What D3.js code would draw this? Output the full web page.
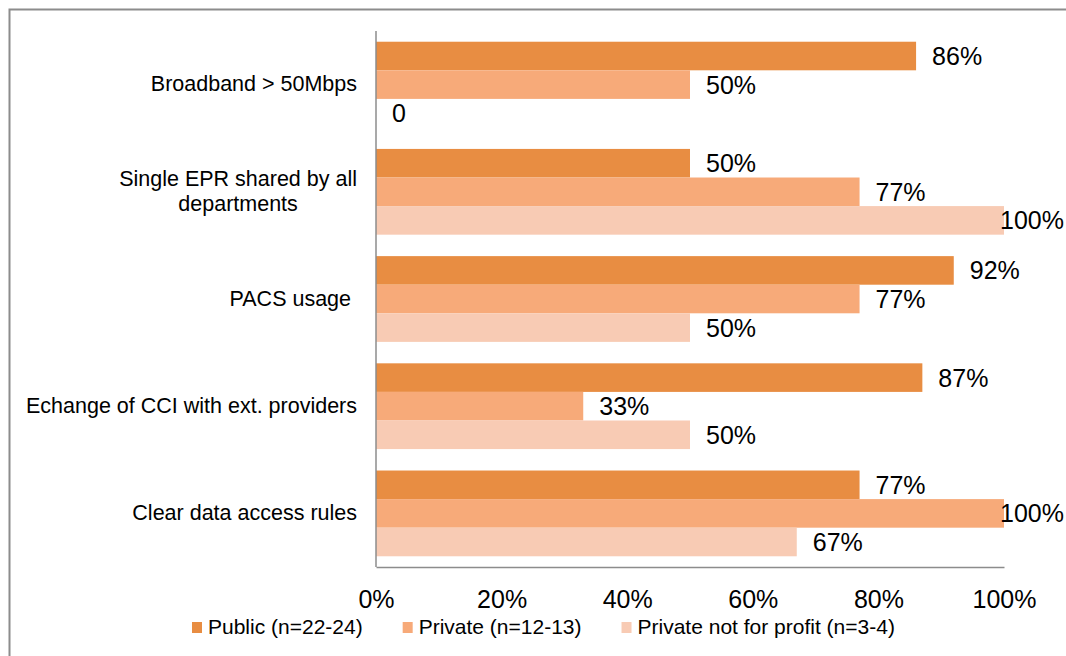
<!DOCTYPE html>
<html>
<head>
<meta charset="utf-8">
<script src="https://cdn.jsdelivr.net/npm/d3@7"></script>
<style>
  html, body { margin: 0; padding: 0; background: #fff; }
  svg { display: block; font-family: "Liberation Sans", Arial, sans-serif; }
</style>
</head>
<body>
<svg id="chart" width="1066" height="656"></svg>
<script>
const categories = [
  "Broadband > 50Mbps",
  "Single EPR shared by all departments",
  "PACS usage ",
  "Echange of CCI with ext. providers",
  "Clear data access rules"
];
const seriesNames = ["Public (n=22-24)", "Private (n=12-13)", "Private not for profit (n=3-4)"];
const publicValues = [86, 50, 92, 87, 77];
const privateValues = [50, 77, 77, 33, 100];
const notForProfitValues = [0, 100, 50, 50, 67];
const tickValues = [0, 20, 40, 60, 80, 100];
const colors = ["#E88D42", "#F7AA79", "#F8CBB4"];

const seriesValues = [publicValues, privateValues, notForProfitValues];
const svg = d3.select("#chart");

// outer frame (left & top visible)
svg.append("rect")
  .attr("x", 9.5).attr("y", 9.5)
  .attr("width", 1200).attr("height", 800)
  .attr("fill", "none").attr("stroke", "#8c8c8c").attr("stroke-width", 2);

const x = d3.scaleLinear().domain([0, 100]).range([376, 1004]);
const y = d3.scaleBand().domain(categories).range([31, 567]).paddingInner(0.2).paddingOuter(0.1);
const ySub = d3.scaleBand().domain(seriesNames).range([0, y.bandwidth()]);

// bars
seriesNames.forEach((s, si) => {
  const data = categories.map((c, i) => ({ c, v: seriesValues[si][i] }));
  svg.append("g").selectAll("rect").data(data).join("rect")
    .attr("x", x(0))
    .attr("y", d => y(d.c) + ySub(s))
    .attr("width", d => x(d.v) - x(0))
    .attr("height", ySub.bandwidth())
    .attr("fill", colors[si]);
});

// value labels
const fmt = v => v === 0 ? "0" : v + "%";
seriesNames.forEach((s, si) => {
  const data = categories.map((c, i) => ({ c, v: seriesValues[si][i] }));
  svg.append("g").selectAll("text").data(data).join("text")
    .attr("x", d => x(d.v) + 16)
    .attr("y", d => y(d.c) + ySub(s) + ySub.bandwidth() / 2 + 9)
    .attr("font-size", 25)
    .attr("fill", "#000")
    .text(d => fmt(d.v))
    .each(function () {
      const w = this.getComputedTextLength();
      const xx = +this.getAttribute("x");
      if (xx + w > 1064) this.setAttribute("x", 1064 - w);
    });
});

// axes lines
svg.append("line").attr("x1", x(0)).attr("x2", x(0)).attr("y1", 31).attr("y2", 567)
  .attr("stroke", "#8c8c8c").attr("stroke-width", 1.5);
const xAxis = d3.axisBottom(x).tickValues(tickValues).tickFormat(d => d + "%").tickSize(0).tickPadding(0);
const gx = svg.append("g").attr("transform", "translate(0,567)").call(xAxis);
gx.select(".domain").attr("stroke", "#8c8c8c").attr("stroke-width", 1.5);
gx.selectAll(".tick text")
  .attr("font-size", 25).attr("font-family", "Liberation Sans, Arial, sans-serif")
  .attr("fill", "#000").attr("dy", null).attr("y", 41);

// category labels with wrapping
const catFont = 21.5;
const catG = svg.append("g");
categories.forEach(c => {
  const t = catG.append("text").attr("font-size", catFont).attr("fill", "#000")
    .style("white-space", "pre");
  const words = c.split(" ");
  const lines = [];
  let cur = "";
  const probe = catG.append("text").attr("font-size", catFont).style("white-space", "pre");
  words.forEach(w => {
    const test = cur ? cur + " " + w : w;
    probe.text(test);
    if (probe.node().getComputedTextLength() > 345 && cur) { lines.push(cur); cur = w; }
    else cur = test;
  });
  lines.push(cur);
  probe.remove();
  const cy = y(c) + y.bandwidth() / 2;
  const lh = 24.5;
  if (lines.length === 1) {
    t.attr("text-anchor", "end").attr("x", 357).attr("y", cy + 6.5).text(lines[0]);
  } else {
    const spans = lines.map((l, i) => t.append("tspan").text(l));
    let maxW = 0;
    spans.forEach(sp => { maxW = Math.max(maxW, sp.node().getComputedTextLength()); });
    const cx = 357 - maxW / 2;
    t.attr("text-anchor", "middle");
    spans.forEach((sp, i) => sp.attr("x", cx).attr("y", cy + 6.5 + (i - (lines.length - 1) / 2) * lh));
  }
});

// legend
const lg = svg.append("g");
let lx = 192;
seriesNames.forEach((s, i) => {
  lg.append("rect").attr("x", lx).attr("y", 622).attr("width", 10).attr("height", 11).attr("fill", colors[i]);
  const t = lg.append("text").attr("x", lx + 16).attr("y", 634).attr("font-size", 21).attr("fill", "#000").text(s);
  lx += 16 + t.node().getComputedTextLength() + 40;
});
</script>
</body>
</html>
